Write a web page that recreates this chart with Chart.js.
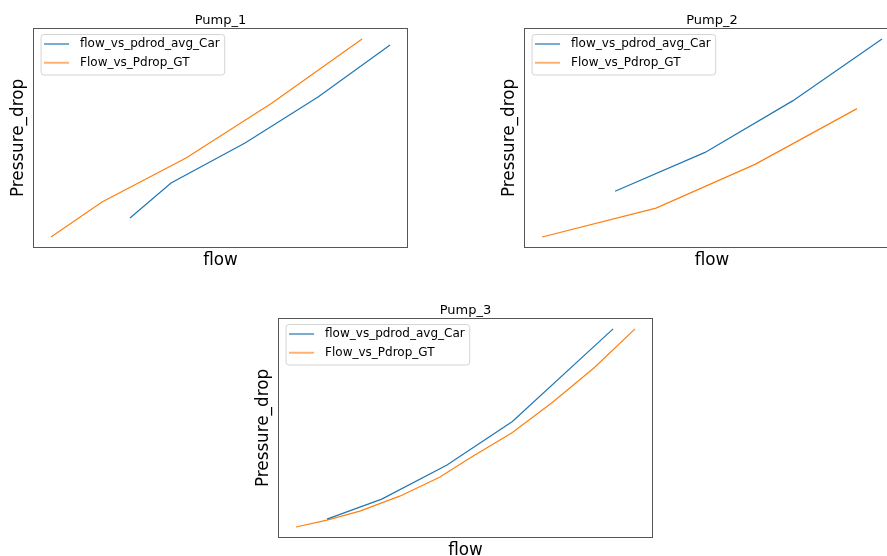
<!DOCTYPE html>
<html>
<head>
<meta charset="utf-8">
<script src="https://cdn.jsdelivr.net/npm/chart.js@4"></script>
<style>
  html, body { margin: 0; padding: 0; background: #fff; overflow: hidden; }
  body { width: 887px; height: 556px; position: relative; }
  canvas { position: absolute; }
</style>
</head>
<body>
<canvas id="pump1" width="420" height="275" style="left:0px;top:0px"></canvas>
<canvas id="pump2" width="421" height="275" style="left:491px;top:0px"></canvas>
<canvas id="pump3" width="420" height="275" style="left:245px;top:290px"></canvas>
<script>
const labelCar = 'flow_vs_pdrod_avg_Car';
const labelGT = 'Flow_vs_Pdrop_GT';

const pump1FlowCar = [96, 137, 211, 284, 356];
const pump1PdropCar = [30, 65, 105, 151, 203];
const pump1FlowGT = [17, 68, 152, 238, 328];
const pump1PdropGT = [11, 46, 90, 145, 209];

const pump2FlowCar = [90, 180, 268, 357];
const pump2PdropCar = [56, 95, 147, 209];
const pump2FlowGT = [17, 131, 230, 332];
const pump2PdropGT = [10, 39, 83, 139];

const pump3FlowCar = [48, 103, 168, 234, 335];
const pump3PdropCar = [18, 38, 72, 116, 209];
const pump3FlowGT = [17, 48, 81, 121, 161, 191, 234, 274, 316, 357];
const pump3PdropGT = [10, 17, 26, 41, 60, 79, 105, 135, 170, 209];

const BLUE = '#1f77b4';
const ORANGE = '#ff7f0e';
const FONT = 'DejaVu Sans';
const PAD = 6.7;

// legend handle: short line with some empty room after it
function handle(color) {
  const c = document.createElement('canvas');
  c.width = 30; c.height = 4;
  const g = c.getContext('2d');
  g.strokeStyle = color;
  g.lineWidth = 1.2;
  g.beginPath(); g.moveTo(0, 2); g.lineTo(25, 2); g.stroke();
  return c;
}

function points(xs, ys) {
  return xs.map((x, i) => ({x: x, y: ys[i]}));
}

// matplotlib style autoscale, 5% margin
function limits(a, b) {
  const all = a.concat(b);
  const lo = Math.min(...all), hi = Math.max(...all);
  const m = (hi - lo) * 0.05;
  return [lo - m, hi + m];
}

const boxes = {
  id: 'boxes',
  afterLayout(chart) {
    // put the legend in the upper left corner of the axes
    const lg = chart.legend, ca = chart.chartArea;
    lg.left = ca.left + 10 - PAD;
    lg.right = ca.right;
    lg.top = ca.top + 2.3;
    lg.bottom = ca.bottom;
  },
  beforeDraw(chart) {
    const ctx = chart.ctx, ca = chart.chartArea;
    ctx.save();
    ctx.font = '12px "' + FONT + '"';
    const tw = Math.max(...chart.data.datasets.map(d => ctx.measureText(d.label).width));
    const x = ca.left + 7, y = ca.top + 5.5, w = tw + 44, h = 40.5, r = 3;
    ctx.beginPath();
    ctx.roundRect(x, y, w, h, r);
    ctx.fillStyle = 'rgba(255,255,255,0.8)';
    ctx.fill();
    ctx.strokeStyle = '#d4d4d4';
    ctx.lineWidth = 1;
    ctx.stroke();
    ctx.restore();
  },
  afterDatasetsDraw(chart) {
    const ctx = chart.ctx, ca = chart.chartArea;
    ctx.save();
    ctx.strokeStyle = '#555';
    ctx.lineWidth = 1;
    ctx.strokeRect(Math.round(ca.left) - 0.5, Math.round(ca.top) - 0.5,
      Math.round(ca.right - ca.left) + 1, Math.round(ca.bottom - ca.top) + 1);
    ctx.restore();
  }
};

function pumpChart(id, title, flowCar, pdropCar, flowGT, pdropGT) {
  const xl = limits(flowCar, flowGT);
  const yl = limits(pdropCar, pdropGT);
  return new Chart(id, {
    type: 'scatter',
    data: {
      datasets: [{
        label: labelCar,
        data: points(flowCar, pdropCar),
        showLine: true,
        borderColor: BLUE,
        backgroundColor: BLUE,
        borderWidth: 1.2,
        pointRadius: 0,
        pointStyle: handle(BLUE)
      }, {
        label: labelGT,
        data: points(flowGT, pdropGT),
        showLine: true,
        borderColor: ORANGE,
        backgroundColor: ORANGE,
        borderWidth: 1.2,
        pointRadius: 0,
        pointStyle: handle(ORANGE)
      }]
    },
    options: {
      responsive: false,
      animation: false,
      events: [],
      layout: { padding: { left: 0, top: 0, right: 13, bottom: 0 } },
      plugins: {
        tooltip: { enabled: false },
        title: {
          display: true,
          text: title,
          fullSize: false,
          color: '#000',
          font: { family: FONT, size: 13, weight: 'normal' },
          padding: { top: 12.7, bottom: 0.7 }
        },
        legend: {
          position: 'chartArea',
          align: 'start',
          labels: {
            color: '#000',
            font: { family: FONT, size: 12 },
            usePointStyle: true,
            pointStyleWidth: 30,
            padding: PAD
          }
        }
      },
      scales: {
        x: {
          type: 'linear',
          min: xl[0], max: xl[1],
          ticks: { display: false },
          grid: { display: false, drawTicks: false },
          border: { display: false },
          title: {
            display: true, text: 'flow', color: '#000',
            font: { family: FONT, size: 16.8 },
            padding: { top: 3.6, bottom: 4.3 }
          }
        },
        y: {
          type: 'linear',
          min: yl[0], max: yl[1],
          ticks: { display: false },
          grid: { display: false, drawTicks: false },
          border: { display: false },
          title: {
            display: true, text: 'Pressure_drop', color: '#000',
            font: { family: FONT, size: 16.8 },
            padding: { top: 8.9, bottom: 5 }
          }
        }
      }
    },
    plugins: [boxes]
  });
}

pumpChart('pump1', 'Pump_1', pump1FlowCar, pump1PdropCar, pump1FlowGT, pump1PdropGT);
pumpChart('pump2', 'Pump_2', pump2FlowCar, pump2PdropCar, pump2FlowGT, pump2PdropGT);
pumpChart('pump3', 'Pump_3', pump3FlowCar, pump3PdropCar, pump3FlowGT, pump3PdropGT);
</script>
</body>
</html>
